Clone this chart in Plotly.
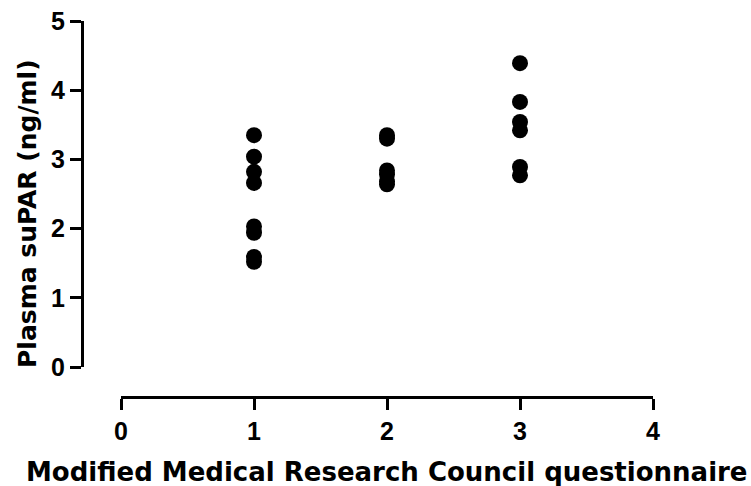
import plotly.graph_objects as go

# data
mmrc_1 = [3.35, 3.04, 2.82, 2.66, 2.03, 1.94, 1.59, 1.52]
mmrc_2 = [3.35, 3.30, 2.84, 2.78, 2.68, 2.64]
mmrc_3 = [4.39, 3.83, 3.54, 3.42, 2.89, 2.77]
x_ticks = [0, 1, 2, 3, 4]
y_ticks = [0, 1, 2, 3, 4, 5]
x_title = "Modified Medical Research Council questionnaire"
y_title = "Plasma suPAR (ng/ml)"

xs = [1] * len(mmrc_1) + [2] * len(mmrc_2) + [3] * len(mmrc_3)
ys = mmrc_1 + mmrc_2 + mmrc_3

W, H = 751, 486
L, R, T, B = 82, 98, 21, 89
FONT = "Liberation Sans, Arial, sans-serif"
TFONT = "DejaVu Sans, sans-serif"

fig = go.Figure()
fig.add_trace(go.Scatter(
    x=xs, y=ys, mode="markers",
    marker=dict(color="black", size=16, line=dict(width=0)),
    cliponaxis=False, showlegend=False,
))

axis_common = dict(
    showline=True, linecolor="black", linewidth=3,
    ticks="outside", ticklen=11, tickwidth=3, tickcolor="black",
    showgrid=False, zeroline=False,
    tickfont=dict(family=FONT, size=25, color="black", weight="bold"),
)

plot_w = W - L - R
plot_h = H - T - B
fig.update_layout(
    width=W, height=H,
    margin=dict(l=L, r=R, t=T, b=B, autoexpand=False),
    paper_bgcolor="white", plot_bgcolor="white",
    xaxis=dict(
        range=[0, 4], tickvals=x_ticks, domain=[(121 - L) / plot_w, 1],
        anchor="free", position=0, ticklabelstandoff=0, **axis_common,
    ),
    yaxis=dict(
        range=[0, 5], tickvals=y_ticks, domain=[(397 - 367) / plot_h, 1],
        anchor="free", position=0, ticklabelstandoff=0, **axis_common,
    ),
    annotations=[
        dict(text=x_title, xref="paper", yref="paper",
             x=(387 - L) / plot_w, y=-(472 - (H - B)) / plot_h,
             xanchor="center", yanchor="middle", showarrow=False,
             font=dict(family=TFONT, size=26, color="black", weight="bold")),
        dict(text=y_title, xref="paper", yref="paper",
             x=-(L - 27) / plot_w, y=1 - (214 - T) / plot_h,
             xanchor="center", yanchor="middle", showarrow=False, textangle=-90,
             font=dict(family=TFONT, size=25, color="black", weight="bold")),
    ],
)

fig.write_html("out.html")
